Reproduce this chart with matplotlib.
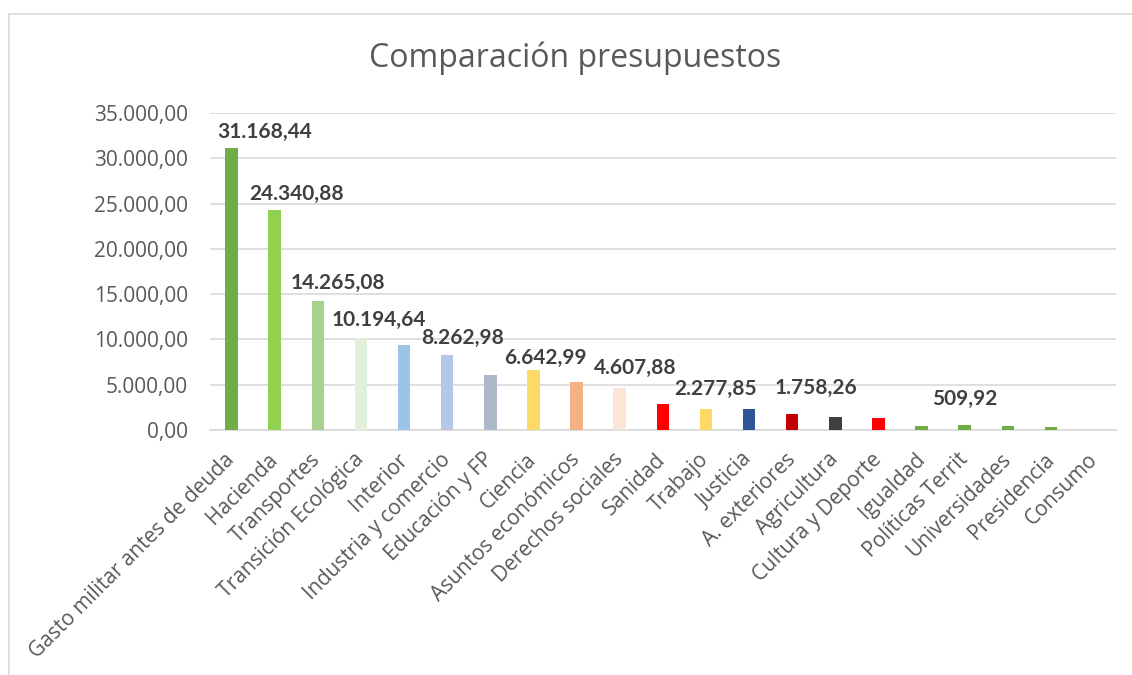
import matplotlib.pyplot as plt
from matplotlib.patches import Rectangle
from matplotlib.ticker import FuncFormatter

plt.rcParams['font.family'] = ['Open Sans', 'DejaVu Sans']

ministerios = ["Gasto militar antes de deuda", "Hacienda", "Transportes",
               "Transición Ecológica", "Interior", "Industria y comercio",
               "Educación y FP", "Ciencia", "Asuntos económicos",
               "Derechos sociales", "Sanidad", "Trabajo", "Justicia",
               "A. exteriores", "Agricultura", "Cultura y Deporte", "Igualdad",
               "Políticas Territ", "Universidades", "Presidencia", "Consumo"]
presupuesto = [31168.44, 24340.88, 14265.08, 10194.64, 9390, 8262.98, 6070,
               6642.99, 5300, 4607.88, 2830, 2277.85, 2290, 1758.26, 1400,
               1290, 470, 509.92, 390, 280, 20]
colores = ['#70AD47', '#92D050', '#A9D18E', '#E2EFDA', '#9DC3E6', '#B4C7E7',
           '#ADB9CA', '#FFD966', '#F4B183', '#FBE5D6', '#FF0000', '#FFD966',
           '#2F5597', '#C00000', '#404040', '#FF0000', '#70AD47', '#70AD47',
           '#70AD47', '#70AD47', '#70AD47']

# etiquetas visibles (indice -> desplazamiento en pixeles, movidas a mano en el original)
etiquetas = {0: (33, 16), 1: (22, 16), 2: (20, 18), 3: (18, 18), 5: (15, 17),
             7: (12, 12), 9: (16, 20), 11: (10, 20), 13: (24, 26), 17: (0, 26)}


def fmt_es(v, decimales=2):
    s = f"{v:,.{decimales}f}"
    return s.replace(',', 'X').replace('.', ',').replace('X', '.')


fig = plt.figure(figsize=(11.32, 6.75), dpi=100)
ax = fig.add_axes([0.1855, 0.363, 0.8, 0.4696])

fig.patches.append(Rectangle((9 / 1132, -0.1), 1.2, 1 - 14 / 675 + 0.1,
                             transform=fig.transFigure, fill=False,
                             edgecolor='#D9D9D9', linewidth=1.2))

x = range(len(ministerios))
ax.bar(x, presupuesto, width=0.29, color=colores, zorder=3)

for i, (dx, dy) in etiquetas.items():
    ax.annotate(fmt_es(presupuesto[i]), (i, presupuesto[i]), xytext=(dx, dy),
                textcoords='offset pixels', ha='center', va='center',
                fontsize=15, fontweight='bold', color='#404040',
                family=['Lato', 'DejaVu Sans'])

ax.set_xlim(-0.5, len(ministerios) - 0.5)
ax.set_ylim(0, 35000)
ax.set_yticks(range(0, 35001, 5000))
ax.yaxis.set_major_formatter(FuncFormatter(lambda v, p: fmt_es(v)))
ax.grid(axis='y', color='#D9D9D9', linewidth=1.2, zorder=0)
for s in ['top', 'right', 'left']:
    ax.spines[s].set_visible(False)
ax.spines['bottom'].set_color('#D9D9D9')
ax.spines['bottom'].set_linewidth(1.2)
ax.tick_params(axis='both', length=0, labelsize=15, labelcolor='#595959')
ax.tick_params(axis='y', pad=16)
ax.tick_params(axis='x', pad=19)
ax.set_xticks(list(x))
ax.set_xticklabels(ministerios, rotation=45, ha='right', va='center',
                   rotation_mode='anchor', fontsize=15)

fig.text(0.508, 1 - 58 / 675, 'Comparación presupuestos', ha='center',
         va='center', fontsize=23, color='#595959')

fig.savefig('out.png', dpi=100)
